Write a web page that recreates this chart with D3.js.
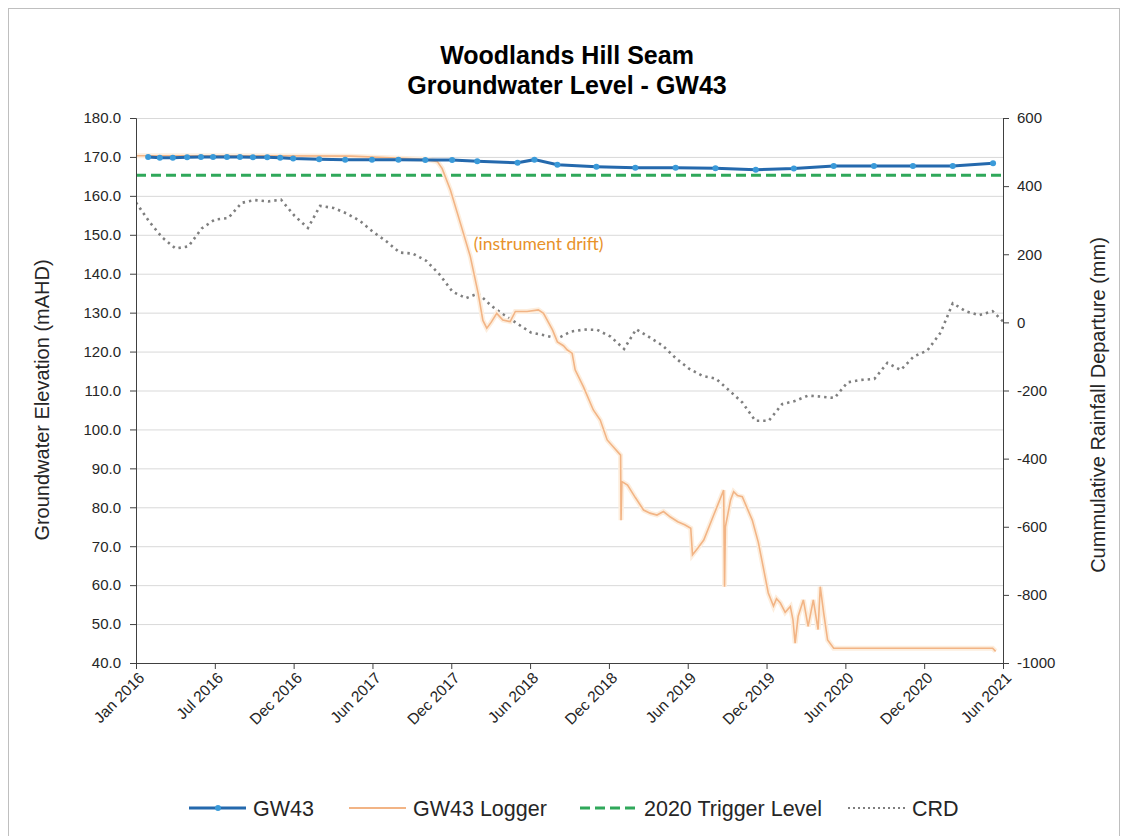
<!DOCTYPE html>
<html>
<head>
<meta charset="utf-8">
<script src="https://cdn.jsdelivr.net/npm/d3@7"></script>
<style>
body { margin: 0; background: #fff; }
svg { font-family: 'Liberation Sans', Arial, sans-serif; }
.axis text { fill: #262626; font-size: 15px; }
.axis path, .axis line { stroke: #404040; }
.grid line { stroke: #d9d9d9; }
.grid path { display: none; }
</style>
</head>
<body>
<div id="chart"></div>
<script>
// GW43 manual readings (mAHD)
const gw43Dates = ['2016-01-29','2016-02-25','2016-03-26','2016-04-28','2016-05-30','2016-06-27','2016-07-29','2016-08-28',
	'2016-09-27','2016-10-30','2016-11-29','2016-12-29','2017-02-27','2017-04-28','2017-06-29','2017-08-29','2017-10-30',
	'2017-12-31','2018-02-27','2018-05-31','2018-07-09','2018-08-31','2018-11-29','2019-02-27','2019-05-31','2019-08-31',
	'2019-12-02','2020-02-28','2020-05-30','2020-08-31','2020-11-29','2021-03-01','2021-06-02'];
const gw43Levels = [170.0,169.8,169.8,169.9,170.0,170.0,170.0,170.0,
	169.9,169.9,169.8,169.6,169.4,169.3,169.3,169.3,169.2,
	169.2,168.9,168.5,169.3,168.0,167.5,167.2,167.2,167.1,
	166.7,167.0,167.7,167.7,167.7,167.7,168.4];

// GW43 logger trace (mAHD)
const loggerDates = ['2016-01-01','2016-09-20','2017-05-10','2017-10-30','2017-11-27','2017-12-08','2017-12-27','2018-01-19',
	'2018-02-11','2018-03-01','2018-03-12','2018-03-21','2018-03-31','2018-04-13','2018-04-27','2018-05-14','2018-05-26',
	'2018-06-22','2018-07-18','2018-07-30','2018-08-20','2018-08-31','2018-09-14','2018-09-23','2018-10-04','2018-10-11',
	'2018-10-30','2018-11-22','2018-12-08','2018-12-24','2019-01-24','2019-01-25','2019-01-27','2019-02-09','2019-02-27',
	'2019-03-18','2019-04-02','2019-04-18','2019-05-03','2019-05-19','2019-06-05','2019-06-21','2019-07-05','2019-07-09',
	'2019-07-21','2019-08-04','2019-08-27','2019-09-19','2019-09-21','2019-09-23','2019-10-05','2019-10-12','2019-10-21',
	'2019-11-01','2019-11-24','2019-12-08','2019-12-19','2019-12-31','2020-01-12','2020-01-19','2020-01-28','2020-02-08',
	'2020-02-20','2020-02-26','2020-03-02','2020-03-09','2020-03-21','2020-04-01','2020-04-13','2020-04-24','2020-04-29',
	'2020-05-07','2020-05-16','2020-05-30','2021-06-01','2021-06-08'];
const loggerLevels = [170.3,170.3,170.2,169.4,168.8,167.0,161.5,153.0,
	144.4,135.0,128.0,126.0,127.5,129.8,128.1,127.7,130.3,
	130.3,130.7,129.8,125.5,122.5,121.5,120.4,119.6,115.3,
	111.0,105.0,102.4,97.3,93.4,76.7,86.6,85.7,82.5,
	79.3,78.5,78.0,78.9,77.5,76.3,75.5,74.6,67.8,
	69.5,71.6,78.0,84.4,59.6,75.0,81.9,84.0,83.0,
	82.7,76.7,71.0,64.8,58.0,54.6,56.5,55.4,53.0,
	54.5,51.1,45.1,52.0,56.2,49.4,56.2,48.6,59.6,
	52.8,45.9,43.8,43.8,43.0];

const triggerLevel = 165.3;

// cumulative rainfall departure (mm), monthly from Jan 2016
const crdStart = '2016-01-01';
const crdValues = [352,295,250,217,223,276,302,306,351,359,355,360,
	313,277,342,336,320,298,266,238,205,202,181,142,
	90,71,85,48,21,-5,-30,-38,-47,-27,-21,-22,
	-42,-78,-20,-44,-68,-106,-136,-157,-165,-199,-235,-289,
	-289,-240,-231,-215,-218,-222,-176,-169,-166,-119,-140,-100,
	-83,-30,56,32,21,33,-5];

const xDomain = ['2016-01-01','2021-06-25'];
const xTickDates = ['2016-01-01','2016-07-01','2016-12-30','2017-06-30','2017-12-29','2018-06-29',
	'2018-12-28','2019-06-28','2019-12-27','2020-06-26','2020-12-25','2021-06-25'];
const leftTicks = [40,50,60,70,80,90,100,110,120,130,140,150,160,170,180];
const rightTicks = [-1000,-800,-600,-400,-200,0,200,400,600];

const parse = d3.utcParse('%Y-%m-%d');

const width = 1128, height = 836;
const margin = {t:118, r:125, b:173, l:136};
const w = width - margin.l - margin.r;
const h = height - margin.t - margin.b;

const svg = d3.select('#chart').append('svg')
	.attr('width', width)
	.attr('height', height);

// chart frame
svg.append('rect')
	.attr('x', 8.5).attr('y', 8.5)
	.attr('width', 1111).attr('height', 840)
	.attr('fill', 'none')
	.attr('stroke', '#bfbfbf');

const plot = svg.append('g')
	.attr('transform', `translate(${margin.l},${margin.t})`);

const scaleX = d3.scaleUtc().domain(xDomain.map(parse)).range([0, w]);
const scaleY = d3.scaleLinear().domain([40, 180]).range([h, 0]);
const scaleY2 = d3.scaleLinear().domain([-1000, 600]).range([h, 0]);

// gridlines
plot.append('g')
	.attr('class', 'grid')
	.call(d3.axisLeft(scaleY).tickValues(leftTicks).tickSize(-w).tickFormat(''));

plot.append('defs').append('clipPath').attr('id', 'clip')
	.append('rect').attr('width', w).attr('height', h);

const series = plot.append('g').attr('clip-path', 'url(#clip)');

// CRD dotted
const crd = crdValues.map((v, i) => ({date: d3.utcMonth.offset(parse(crdStart), i), value: v}));
series.append('path')
	.datum(crd)
	.attr('fill', 'none')
	.attr('stroke', '#7f7f7f')
	.attr('stroke-width', 2.6)
	.attr('stroke-dasharray', '2.4,4')
	.attr('d', d3.line().x(d => scaleX(d.date)).y(d => scaleY2(d.value)));

// trigger level
series.append('line')
	.attr('x1', 0).attr('x2', w)
	.attr('y1', scaleY(triggerLevel)).attr('y2', scaleY(triggerLevel))
	.attr('stroke', '#2fa85a')
	.attr('stroke-width', 3)
	.attr('stroke-dasharray', '10,5');

// logger
const logger = loggerDates.map((d, i) => ({date: parse(d), value: loggerLevels[i]}));
const loggerLine = d3.line().x(d => scaleX(d.date)).y(d => scaleY(d.value));
series.append('path')
	.datum(logger)
	.attr('fill', 'none')
	.attr('stroke', '#fdeede')
	.attr('stroke-width', 5)
	.attr('d', loggerLine);
series.append('path')
	.datum(logger)
	.attr('fill', 'none')
	.attr('stroke', '#f2b485')
	.attr('stroke-width', 1.6)
	.attr('d', loggerLine);

// GW43 manual
const gw43 = gw43Dates.map((d, i) => ({date: parse(d), value: gw43Levels[i]}));
series.append('path')
	.datum(gw43)
	.attr('fill', 'none')
	.attr('stroke', '#2469ad')
	.attr('stroke-width', 3)
	.attr('d', d3.line().x(d => scaleX(d.date)).y(d => scaleY(d.value)));
series.selectAll('.pt')
	.data(gw43)
	.enter().append('circle')
	.attr('class', 'pt')
	.attr('cx', d => scaleX(d.date))
	.attr('cy', d => scaleY(d.value))
	.attr('r', 3)
	.attr('fill', '#3a9ad9');

// annotation
plot.append('text')
	.attr('x', scaleX(parse('2018-02-19')))
	.attr('y', scaleY(146.2))
	.attr('fill', '#e8922a')
	.style('font-family', 'Lato, sans-serif')
	.style('font-size', '17.5px')
	.text('(instrument drift)');

// axes
plot.append('g')
	.attr('class', 'axis')
	.call(d3.axisLeft(scaleY).tickValues(leftTicks).tickSize(6).tickPadding(9).tickFormat(d3.format('.1f')));

plot.append('g')
	.attr('class', 'axis')
	.attr('transform', `translate(${w},0)`)
	.call(d3.axisRight(scaleY2).tickValues(rightTicks).tickSize(6).tickPadding(8).tickFormat(d => d));

const axisB = plot.append('g')
	.attr('class', 'axis')
	.attr('transform', `translate(0,${h})`)
	.call(d3.axisBottom(scaleX).tickValues(xTickDates.map(parse)).tickSize(6).tickFormat(d3.utcFormat('%b %Y')));
axisB.selectAll('text')
	.attr('x', 0).attr('y', 0).attr('dy', '0.35em')
	.attr('text-anchor', 'end')
	.style('font-size', '15.5px')
	.attr('transform', 'translate(5,12) rotate(-45)');

// titles
svg.append('text')
	.attr('x', 567).attr('y', 64)
	.attr('text-anchor', 'middle')
	.style('font-size', '25px').style('font-weight', 'bold')
	.text('Woodlands Hill Seam');
svg.append('text')
	.attr('x', 567).attr('y', 94)
	.attr('text-anchor', 'middle')
	.style('font-size', '25px').style('font-weight', 'bold')
	.text('Groundwater Level - GW43');

svg.append('text')
	.attr('transform', `translate(49,400) rotate(-90)`)
	.attr('text-anchor', 'middle')
	.style('font-size', '20px').attr('fill', '#262626')
	.text('Groundwater Elevation (mAHD)');
svg.append('text')
	.attr('transform', `translate(1105,405) rotate(-90)`)
	.attr('text-anchor', 'middle')
	.style('font-size', '20px').attr('fill', '#262626')
	.text('Cummulative Rainfall Departure (mm)');

// legend
const legendY = 808;
const legend = svg.append('g').style('font-size', '21.5px');
const items = [
	{label: 'GW43', x: 189, stroke: '#2469ad', width: 3, dash: null, marker: true},
	{label: 'GW43 Logger', x: 349, stroke: '#f2b485', width: 2, dash: null},
	{label: '2020 Trigger Level', x: 580, stroke: '#2fa85a', width: 3, dash: '10,5'},
	{label: 'CRD', x: 848, stroke: '#7f7f7f', width: 2.2, dash: '2,3'}
];
items.forEach(it => {
	legend.append('line')
		.attr('x1', it.x).attr('x2', it.x + 57)
		.attr('y1', legendY).attr('y2', legendY)
		.attr('stroke', it.stroke)
		.attr('stroke-width', it.width)
		.attr('stroke-dasharray', it.dash);
	if (it.marker) {
		legend.append('circle').attr('cx', it.x + 29).attr('cy', legendY).attr('r', 3).attr('fill', '#3a9ad9');
	}
	legend.append('text')
		.attr('x', it.x + 64).attr('y', legendY).attr('dy', '0.35em')
		.attr('fill', '#262626')
		.text(it.label);
});
</script>
</body>
</html>
